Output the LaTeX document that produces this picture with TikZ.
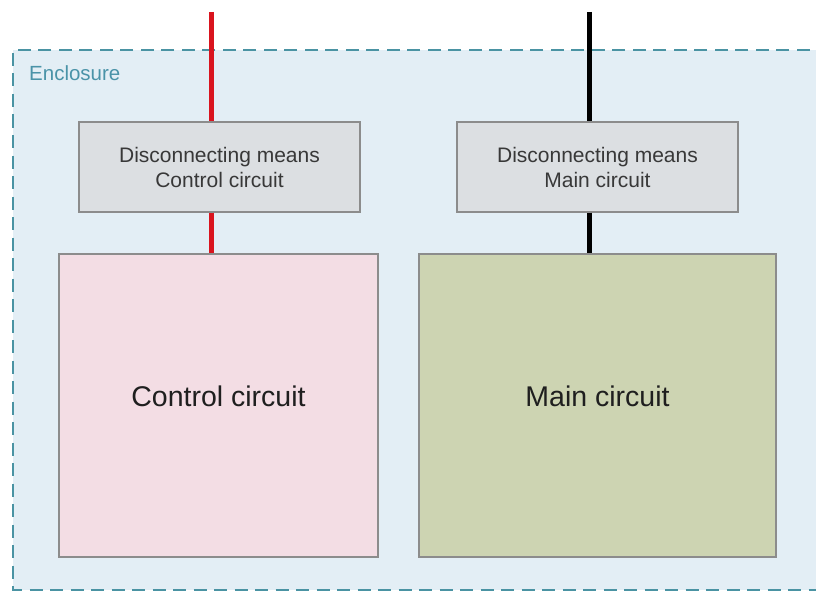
\documentclass[tikz,border=0pt]{standalone}
\usepackage{fontspec}
\setmainfont{Liberation Sans}
\definecolor{encfill}{HTML}{E3EEF5}
\definecolor{encline}{HTML}{4A93A3}
\definecolor{enctext}{HTML}{4A93A8}
\definecolor{discfill}{HTML}{DCDFE2}
\definecolor{boxline}{HTML}{8C8C8C}
\definecolor{ctrlfill}{HTML}{F3DDE4}
\definecolor{mainfill}{HTML}{CDD4B2}
\definecolor{wirered}{HTML}{D9141E}
\begin{document}
\begin{tikzpicture}[x=1pt,y=-1pt,
  discbox/.style={draw=boxline, line width=1.3pt, fill=discfill, rectangle, inner sep=0pt,
    minimum width=281pt, minimum height=90pt, align=center, font=\fontsize{21}{25}\selectfont, text=black!78},
  circbox/.style={draw=boxline, line width=1.3pt, rectangle, inner sep=0pt, minimum height=303pt},
  circtext/.style={font=\fontsize{28.5}{32}\selectfont, text=black!88, inner sep=0pt},
  wire/.style={line width=5pt}]
\useasboundingbox (0,0) rectangle (816,591);
\fill[white] (0,0) rectangle (816,591);
\fill[encfill] (13,50) rectangle (830,590);
\draw[encline, line width=2.2pt, dash pattern=on 13pt off 7.5pt] (830,50) -- (13,50) -- (13,590) -- (830,590);
\node[anchor=base west, text=enctext, font=\fontsize{20.5}{24}\selectfont, inner sep=0pt] (enc) at (29,81) {Enclosure};
\node[discbox] (dc) at (219.5,167) {Disconnecting means\\Control circuit};
\node[discbox] (dm) at (597.5,167) {Disconnecting means\\Main circuit};
\node[circbox, fill=ctrlfill, minimum width=319pt] (cc) at (218.5,405.5) {};
\node[circbox, fill=mainfill, minimum width=357pt] (mc) at (597.5,405.5) {};
\node[circtext] (cct) at ([yshift=9pt]cc.center) {Control circuit};
\node[circtext] (mct) at ([yshift=9pt]mc.center) {Main circuit};
\coordinate (rt) at (211,12);
\coordinate (bt) at (589.5,12);
\draw[wire, wirered] (rt) -- (rt |- dc.north);
\draw[wire, wirered] (rt |- dc.south) -- (rt |- cc.north);
\draw[wire, black] (bt) -- (bt |- dm.north);
\draw[wire, black] (bt |- dm.south) -- (bt |- mc.north);
\end{tikzpicture}
\end{document}
